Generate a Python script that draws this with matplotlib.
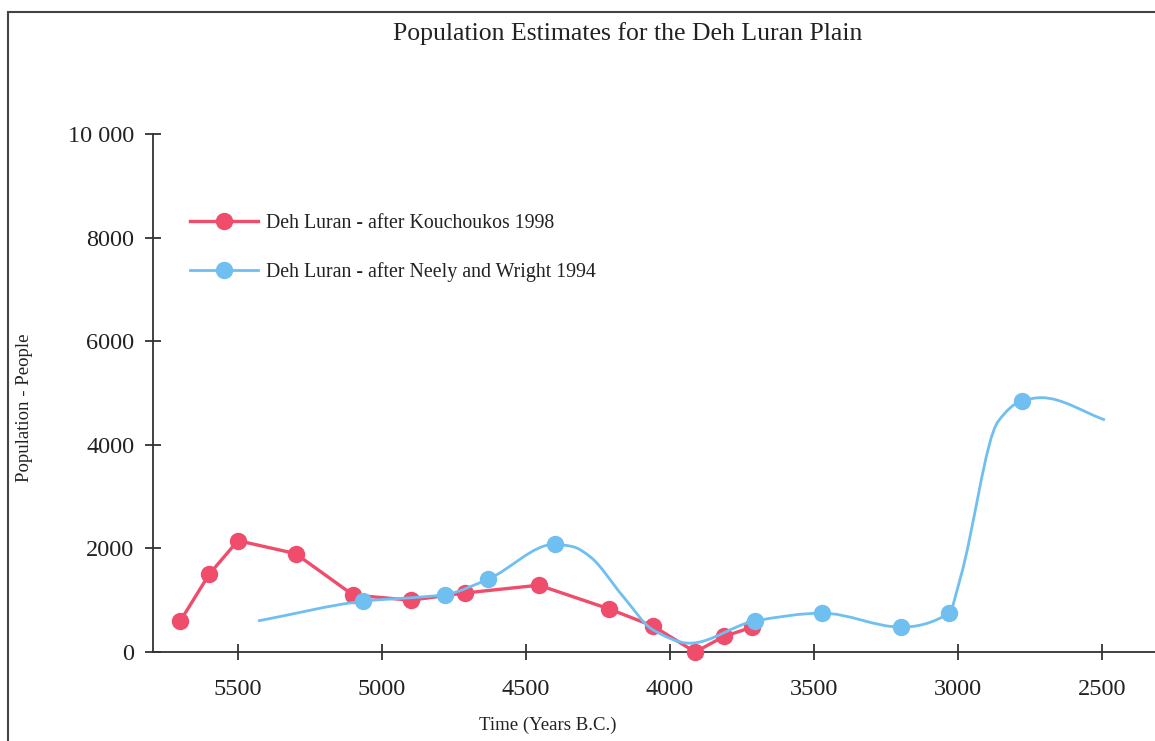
import numpy as np
import matplotlib
matplotlib.use('Agg')
import matplotlib.pyplot as plt
from matplotlib.path import Path
from matplotlib.patches import PathPatch, Rectangle
from matplotlib.lines import Line2D

plt.rcParams['font.family'] = ['Liberation Serif', 'DejaVu Serif']

# Kouchoukos 1998 series
red_years = [5700, 5600, 5500, 5300, 5100, 4900, 4710, 4455, 4210, 4058, 3912, 3812, 3714]
red_pop = [600, 1500, 2150, 1900, 1100, 1000, 1140, 1290, 830, 500, 0, 300, 480]

# Neely and Wright 1994 series (line vertices; flag = drawn with a marker)
blue_years = [5430, 5065, 4780, 4630, 4400, 4335, 4277, 4162, 4058, 3930, 3704, 3470,
              3197, 3031, 2990, 2860, 2776, 2710, 2489]
blue_pop = [600, 980, 1110, 1410, 2080, 2030, 1840, 1070, 425, 170, 600, 750,
            480, 750, 1450, 4450, 4850, 4910, 4480]
blue_marked = [0, 1, 1, 1, 1, 0, 0, 0, 0, 0, 1, 1, 1, 1, 0, 0, 1, 0, 0]

x_ticks = [5500, 5000, 4500, 4000, 3500, 3000, 2500]
y_ticks = [0, 2000, 4000, 6000, 8000, 10000]
y_labels = ['0', '2000', '4000', '6000', '8000', '10 000']

red = '#f04c6c'
blue = '#6fbff0'


def smooth_path(xs, ys):
    # monotone cubic (fritsch-carlson) through the vertices, as bezier segments
    x = np.asarray(xs, float)
    y = np.asarray(ys, float)
    h = np.diff(x)
    d = np.diff(y) / h
    m = np.zeros_like(y)
    m[0], m[-1] = d[0], d[-1]
    for k in range(1, len(x) - 1):
        if d[k - 1] * d[k] > 0:
            w1 = 2 * h[k] + h[k - 1]
            w2 = h[k] + 2 * h[k - 1]
            m[k] = (w1 + w2) / (w1 / d[k - 1] + w2 / d[k])
    verts = [(x[0], y[0])]
    codes = [Path.MOVETO]
    for i in range(len(x) - 1):
        verts += [(x[i] + h[i] / 3, y[i] + m[i] * h[i] / 3),
                  (x[i + 1] - h[i] / 3, y[i + 1] - m[i + 1] * h[i] / 3),
                  (x[i + 1], y[i + 1])]
        codes += [Path.CURVE4] * 3
    return Path(verts, codes)


fig = plt.figure(figsize=(11.55, 7.41), dpi=100)
ax = fig.add_axes([153 / 1155, 89 / 741, 1002 / 1155, 518 / 741])

ax.plot(red_years, red_pop, color=red, lw=2.4, marker='o', ms=11.5,
        mec=red, mfc=red, clip_on=False, zorder=3)

ax.add_patch(PathPatch(smooth_path(blue_years, blue_pop), fill=False,
                       edgecolor=blue, lw=2.0, zorder=4, clip_on=False))
bx = [x for x, m in zip(blue_years, blue_marked) if m]
by = [y for y, m in zip(blue_pop, blue_marked) if m]
ax.plot(bx, by, ls='none', marker='o', ms=11.5, mfc=blue, mec=blue,
        clip_on=False, zorder=5)

ax.set_xlim(5795, 2315)
ax.set_ylim(0, 10000)
ax.set_xticks(x_ticks)
ax.set_yticks(y_ticks)
ax.set_yticklabels(y_labels)

for s in ['top', 'right']:
    ax.spines[s].set_visible(False)
for s in ['left', 'bottom']:
    ax.spines[s].set_color('#333333')
    ax.spines[s].set_linewidth(1.3)

ax.tick_params(axis='both', direction='inout', length=11, width=1.3,
               colors='#333333', labelcolor='#222222', labelsize=17.5)
ax.tick_params(axis='x', pad=14)
ax.tick_params(axis='y', pad=8)

ax.set_xlabel('Time (Years B.C.)', fontsize=13.5, color='#222222')
ax.set_ylabel('Population - People', fontsize=13.5, color='#222222')
ax.xaxis.set_label_coords(0.394, -0.125)
ax.yaxis.set_label_coords(-0.12, 0.471)

fig.text(628 / 1155, 1 - 34 / 741, 'Population Estimates for the Deh Luran Plain',
         ha='center', va='center', fontsize=18.5, color='#222222')

handles = [Line2D([], [], color=red, lw=2.4, marker='o', ms=11.5),
           Line2D([], [], color=blue, lw=2.0, marker='o', ms=11.5)]
labels = ['Deh Luran - after Kouchoukos 1998', 'Deh Luran - after Neely and Wright 1994']
ax.legend(handles, labels, loc='upper left', bbox_to_anchor=(0.037, 0.845),
          frameon=False, fontsize=14.3, handlelength=3.4, handletextpad=0.4,
          labelspacing=1.45, borderpad=0, borderaxespad=0, labelcolor='#222222')

# outer frame of the scanned figure
fig.patches.append(Rectangle((8 / 1155, -0.05), 1.2, 1 - 12 / 741 + 0.05,
                             transform=fig.transFigure, fill=False,
                             edgecolor='#444444', lw=1.5))

fig.savefig('out.png', dpi=100)
